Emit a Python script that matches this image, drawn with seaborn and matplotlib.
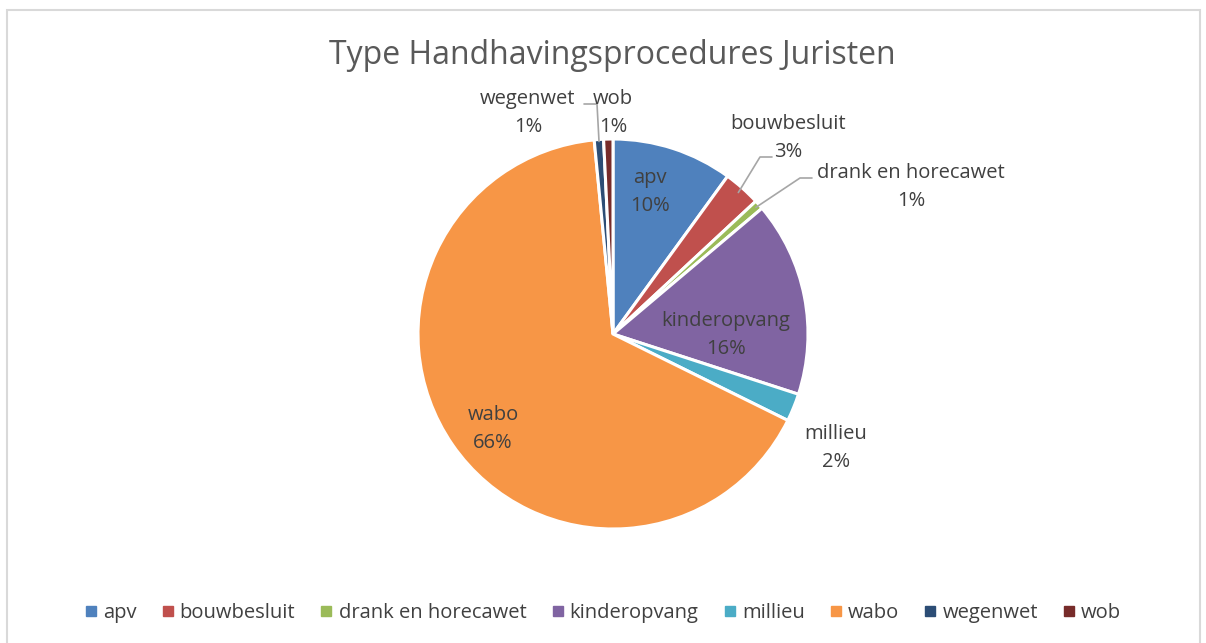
import numpy as np
import matplotlib
matplotlib.use("Agg")
import matplotlib.pyplot as plt
import seaborn as sns
from matplotlib.patches import Rectangle
from matplotlib.lines import Line2D

categories = ["apv", "bouwbesluit", "drank en horecawet", "kinderopvang",
              "millieu", "wabo", "wegenwet", "wob"]
counts = [13, 4, 1, 21, 3, 86, 1, 1]
colors = ["#4F81BD", "#C0504D", "#9BBB59", "#8064A2",
          "#4BACC6", "#F79646", "#2C4D75", "#772C2A"]
title = "Type Handhavingsprocedures Juristen"

sns.set_theme(style="white")
plt.rcParams["font.family"] = ["Open Sans", "DejaVu Sans"]

W, H = 1206, 643
fig = plt.figure(figsize=(W / 100, H / 100), dpi=100)
ax = fig.add_axes([0, 0, 1, 1])

cx, cy, R = 613, H - 334, 195
wedges, _ = ax.pie(counts, colors=colors, startangle=90, counterclock=False,
                   center=(cx, cy), radius=R, frame=True,
                   wedgeprops=dict(edgecolor="white", linewidth=2.2))
ax.set_xlim(0, W)
ax.set_ylim(0, H)
ax.set_aspect("equal")
ax.axis("off")

# outer chart frame
ax.add_patch(Rectangle((7, -10), 1193, H - 10 + 10, fill=False,
                       edgecolor="#D9D9D9", lw=1.5, clip_on=False))

total = sum(counts)
pct = [f"{round(c / total * 100):.0f}%" for c in counts]

txt_color = "#404040"
fs = 14.5
label_pos = {
    "apv": (650, 192),
    "bouwbesluit": (788, 138),
    "drank en horecawet": (911, 187),
    "kinderopvang": (726, 335),
    "millieu": (836, 448),
    "wabo": (493, 429),
    "wegenwet": (528, 113),
    "wob": (613, 113),
}
for cat, p in zip(categories, pct):
    x, y = label_pos[cat]
    ax.text(x, H - y, f"{cat}\n{p}", ha="center", va="center", fontsize=fs,
            color=txt_color, linespacing=1.5)

lc = "#A6A6A6"
def mid_pt(i, r):
    w = wedges[i]
    a = np.deg2rad((w.theta1 + w.theta2) / 2)
    return cx + r * np.cos(a), cy + r * np.sin(a)

x0, y0 = mid_pt(1, R - 6)
ax.plot([x0, 760, 772], [y0, H - 157, H - 157], color=lc, lw=1.2)
x0, y0 = mid_pt(2, R - 4)
ax.plot([x0, 800, 812], [y0, H - 178, H - 178], color=lc, lw=1.2)
x0, y0 = mid_pt(6, R - 2)
ax.plot([x0, 597, 584], [y0, H - 104, H - 104], color=lc, lw=1.2)

ax.text(612, H - 55, title, ha="center", va="center", fontsize=23,
        color="#595959")

handles = [Line2D([0], [0], marker="s", linestyle="", markersize=6.5,
                  markerfacecolor=c, markeredgecolor=c) for c in colors]
leg = fig.legend(handles, categories, loc="center", bbox_to_anchor=(0.5, 1 - 613 / H),
                 ncol=8, frameon=False, fontsize=fs, handlelength=0.6,
                 handletextpad=0.3, columnspacing=1.25)
for t in leg.get_texts():
    t.set_color(txt_color)

fig.savefig("out.png", dpi=100)
